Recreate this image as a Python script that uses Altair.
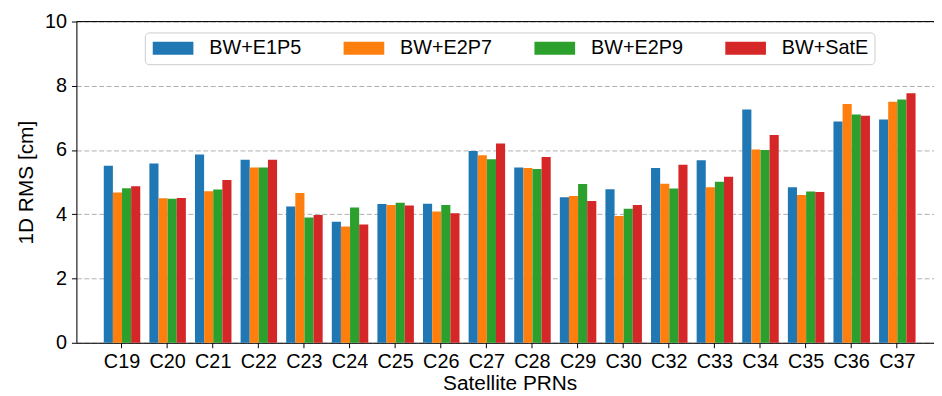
import altair as alt
import pandas as pd

categories = ["C19", "C20", "C21", "C22", "C23", "C24", "C25", "C26", "C27",
              "C28", "C29", "C30", "C32", "C33", "C34", "C35", "C36", "C37"]
series = ["BW+E1P5", "BW+E2P7", "BW+E2P9", "BW+SatE"]
colors = ["#1f77b4", "#ff7f0e", "#2ca02c", "#d62728"]

e1p5 = [5.51, 5.58, 5.86, 5.70, 4.24, 3.77, 4.32, 4.33, 5.97,
        5.46, 4.53, 4.78, 5.44, 5.68, 7.26, 4.84, 6.89, 6.95]
e2p7 = [4.68, 4.50, 4.72, 5.46, 4.66, 3.62, 4.29, 4.09, 5.84,
        5.44, 4.57, 3.95, 4.95, 4.84, 6.02, 4.60, 7.43, 7.50]
e2p9 = [4.81, 4.48, 4.77, 5.46, 3.90, 4.21, 4.36, 4.29, 5.71,
        5.41, 4.94, 4.17, 4.80, 5.01, 6.00, 4.71, 7.11, 7.57]
sate = [4.87, 4.51, 5.07, 5.70, 3.98, 3.68, 4.27, 4.03, 6.20,
        5.78, 4.41, 4.29, 5.54, 5.17, 6.47, 4.69, 7.07, 7.77]

rows = []
for name, vals in zip(series, [e1p5, e2p7, e2p9, sate]):
    for c, v in zip(categories, vals):
        rows.append({"prn": c, "series": name, "rms": v})
df = pd.DataFrame(rows)

FONT = "Liberation Sans"
W, H = 865, 324

legend = alt.Legend(
    orient="none", legendX=69, legendY=11, direction="horizontal", columns=4,
    title=None,
    symbolType="M-0.8,-0.65L3.3,-0.65L3.3,0.65L-0.8,0.65Z",
    symbolSize=400, symbolStrokeWidth=0, symbolOpacity=1,
    labelFont=FONT, labelFontSize=20, labelColor="black", labelOffset=39,
    labelLimit=0, columnPadding=40.5, padding=6,
    strokeColor="#cccccc", fillColor="white", cornerRadius=4,
)

bars = alt.Chart(df).mark_bar().encode(
    x=alt.X("prn:N", sort=categories,
            scale=alt.Scale(range=[0, 874], paddingInner=0.2, paddingOuter=0.6),
            axis=alt.Axis(title="Satellite PRNs", labelAngle=0, labelFont=FONT,
                          labelFontSize=20, labelColor="black", labelPadding=4,
                          tickSize=5, tickColor="black", domainColor="black",
                          titleFont=FONT, titleFontSize=21, titleFontWeight="normal",
                          titleColor="black", titleBaseline="alphabetic",
                          titleY=47.5, grid=False)),
    xOffset=alt.XOffset("series:N", sort=series,
                        scale=alt.Scale(domain=series, paddingInner=0, paddingOuter=0)),
    y=alt.Y("rms:Q", scale=alt.Scale(domain=[0, 10], nice=False),
            axis=alt.Axis(title="1D RMS [cm]", values=[0, 2, 4, 6, 8, 10],
                          labelFont=FONT, labelFontSize=20, labelColor="black",
                          labelPadding=5, tickSize=5, tickColor="black",
                          domainColor="black", titleFont=FONT, titleFontSize=21,
                          titleFontWeight="normal", titleColor="black",
                          titleBaseline="alphabetic", titleX=-44,
                          grid=True, gridColor="#b0b0b0", gridDash=[5, 2.5],
                          gridWidth=1)),
    color=alt.Color("series:N", sort=series,
                    scale=alt.Scale(domain=series, range=colors), legend=legend),
)

top_spine = alt.Chart(pd.DataFrame({"a": [0]})).mark_rule(
    color="black", strokeWidth=1
).encode(x=alt.value(0), x2=alt.value(W), y=alt.value(0))

chart = alt.layer(bars, top_spine).properties(
    width=W, height=H,
    autosize=alt.AutoSizeParams(type="none"),
    padding={"left": 69, "top": 12, "right": 0, "bottom": 50},
).configure_view(stroke=None).configure(font=FONT)

chart.save("out.html", embed_options={"renderer": "svg", "actions": False})
